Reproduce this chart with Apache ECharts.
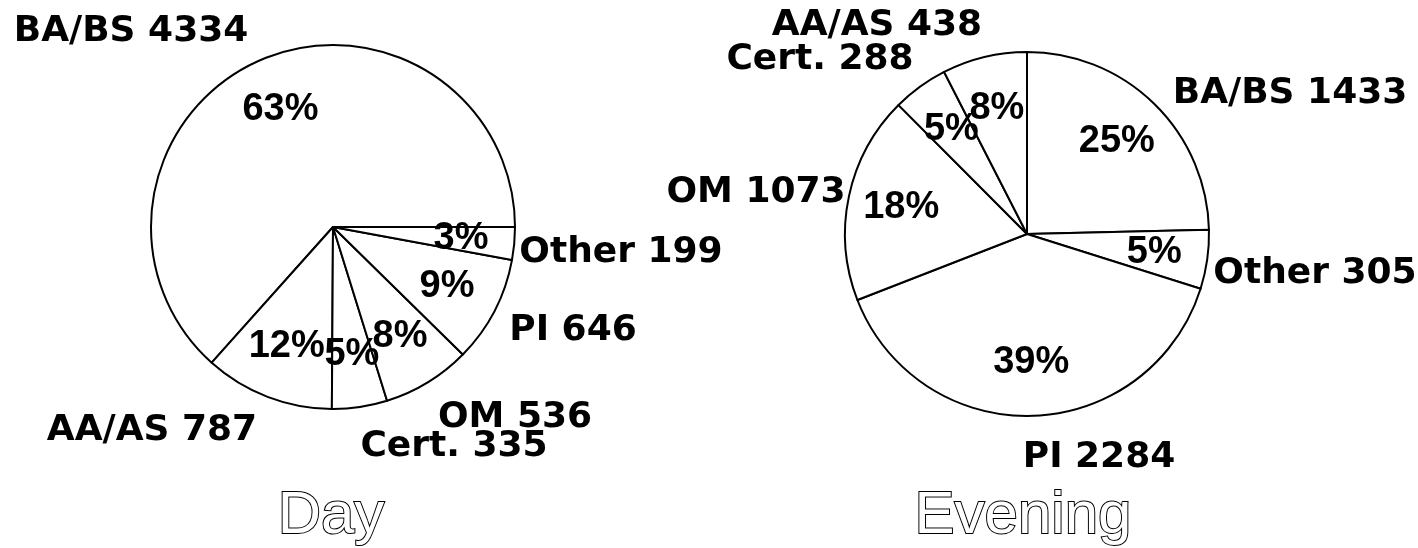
<!DOCTYPE html>
<html>
<head>
<meta charset="utf-8">
<script src="https://cdn.jsdelivr.net/npm/echarts@6/dist/echarts.min.js"></script>
<style>
  html, body { margin: 0; padding: 0; background: #fff; }
  #chart { width: 1418px; height: 548px; }
</style>
</head>
<body>
<div id="chart"></div>
<script>
// Day program: slices run counter-clockwise from 3 o'clock
const dayNames = ['BA/BS', 'AA/AS', 'Cert.', 'OM', 'PI', 'Other']
const dayValues = [4334, 787, 335, 536, 646, 199]

// Evening program: slices run clockwise from 12 o'clock
const eveNames = ['BA/BS', 'Other', 'PI', 'OM', 'Cert.', 'AA/AS']
const eveValues = [1433, 305, 2284, 1073, 288, 438]

const titles = ['Day', 'Evening']

// label placement (offset of label centre from pie centre, px)
const dayCenter = [333, 227]
const eveCenter = [1027, 234]
const R = 182
const dayLabelOffsets = [[-202, -195], [-181, 204], [121, 220], [182, 191], [240, 104], [288, 26]]
const eveLabelOffsets = [[263, -140], [288, 40], [72, 224], [-271, -41], [-207, -174], [-150, -208]]

const outerFont = { fontFamily: 'DejaVu Sans', fontWeight: 'bold', fontSize: 36, color: '#000' }
const pctFont = { fontFamily: 'Liberation Sans', fontWeight: 'bold', fontSize: 38, color: '#000' }

function toData(names, values) {
  return names.map((n, i) => ({ name: n, value: values[i] }))
}

function piePair(names, values, center, offsets, clockwise, startAngle) {
  const data = toData(names, values)
  return [
    {
      type: 'pie',
      center: center,
      radius: [0, R],
      clockwise: clockwise,
      startAngle: startAngle,
      silent: true,
      animation: false,
      avoidLabelOverlap: false,
      itemStyle: { color: '#fff', borderColor: '#000', borderWidth: 2 },
      label: { show: true, position: 'outside', formatter: '{b} {c}', ...outerFont },
      labelLine: { show: false },
      labelLayout: (p) => {
        const o = offsets[p.dataIndex]
        return { x: center[0] + o[0], y: center[1] + o[1], align: 'center', verticalAlign: 'middle' }
      },
      data: data,
    },
    {
      // invisible ring used only to place the percentages at ~2/3 radius
      type: 'pie',
      center: center,
      radius: [R * 0.66, R * 0.72],
      clockwise: clockwise,
      startAngle: startAngle,
      silent: true,
      animation: false,
      avoidLabelOverlap: false,
      percentPrecision: 0,
      itemStyle: { color: 'rgba(0,0,0,0)', borderWidth: 0 },
      label: { show: true, position: 'inside', formatter: '{d}%', overflow: 'none', ...pctFont },
      labelLine: { show: false },
      labelLayout: { hideOverlap: false },
      data: data,
    },
  ]
}

const chart = echarts.init(document.getElementById('chart'))
const titleStyle = {
  fontFamily: 'Liberation Sans', fontSize: 60, fontWeight: 'normal',
  color: '#fff', textBorderColor: '#000', textBorderWidth: 2,
}
chart.setOption({
  backgroundColor: '#fff',
  title: [
    { text: titles[0], left: 331, top: 486, textAlign: 'center', padding: 0, textStyle: titleStyle },
    { text: titles[1], left: 1023, top: 486, textAlign: 'center', padding: 0, textStyle: titleStyle },
  ],
  series: [
    ...piePair(dayNames, dayValues, dayCenter, dayLabelOffsets, false, 0),
    ...piePair(eveNames, eveValues, eveCenter, eveLabelOffsets, true, 90),
  ],
})
</script>
</body>
</html>
